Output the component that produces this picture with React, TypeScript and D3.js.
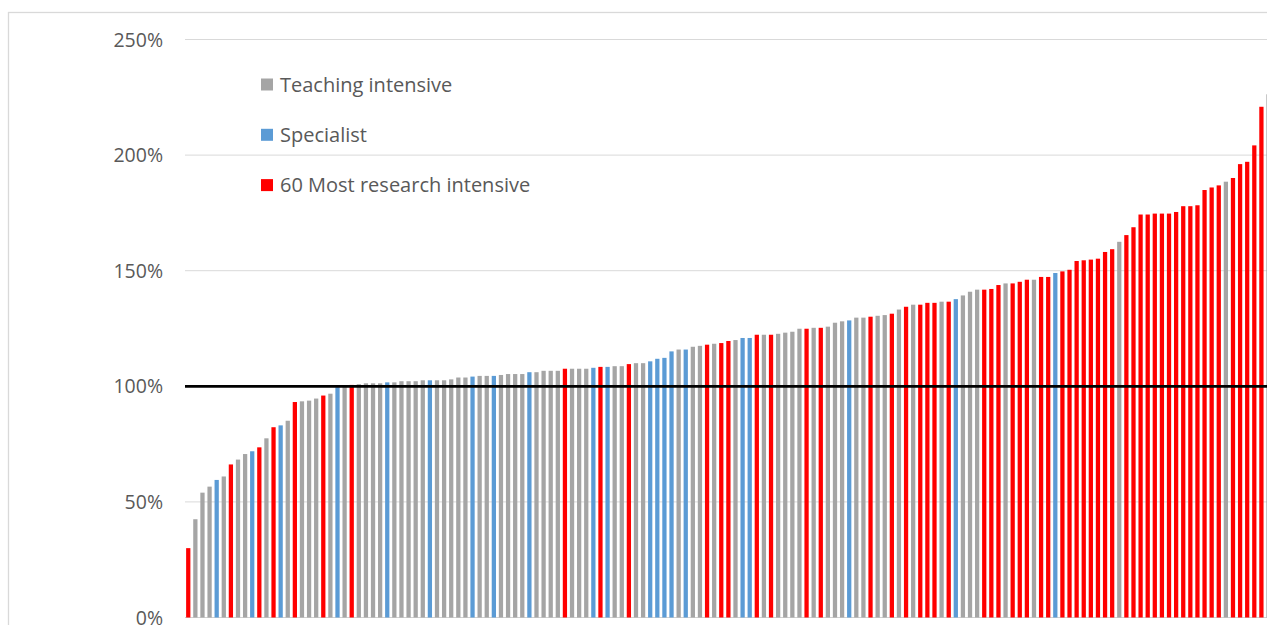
import React from "react";
import * as d3 from "d3";

// T = Teaching intensive, S = Specialist, R = 60 Most research intensive
const groups: string[] = [
  "R","T","T","T","S","T","R","T","T","S","R","T","R","S","T","R","T","T","T","R",
  "T","S","T","R","T","T","T","T","S","T","T","T","T","T","S","T","T","T","T","T",
  "S","T","T","S","T","T","T","T","S","T","T","T","T","R","T","T","T","S","R","S",
  "T","T","R","T","T","S","S","S","S","T","S","T","T","R","T","R","R","T","S","S",
  "R","T","R","T","T","T","T","R","T","R","T","T","T","S","T","T","R","T","T","R",
  "T","R","T","R","R","R","T","R","S","T","T","T","R","R","R","T","R","R","R","T",
  "R","R","S","R","R","R","R","R","R","R","R","T","R","R","R","R","R","R","R","R",
  "R","R","R","R","R","R","T","R","R","R","R","R","T"
];

const values: number[] = [
  30, 42.5, 54, 56.6, 59.5, 61, 66.2, 68.3, 70.7, 71.9, 73.6, 77.5, 82.3, 83.1, 85.1, 93.2, 93.5, 93.8, 94.7, 96,
  96.8, 99.6, 100.2, 100.6, 100.9, 101.3, 101.3, 101.3, 101.7, 101.7, 102.2, 102.2, 102.2, 102.6, 102.6, 102.6, 102.6, 103, 103.8, 103.8,
  104.2, 104.5, 104.5, 104.5, 104.9, 105.3, 105.3, 105.3, 106.1, 106.1, 106.7, 106.7, 106.7, 107.6, 107.6, 107.6, 107.6, 108, 108.4, 108.4,
  108.7, 108.7, 109.6, 110, 110, 110.8, 111.9, 112.3, 115.1, 115.9, 115.9, 117.1, 117.5, 118, 118.4, 118.7, 119.6, 120, 120.9, 120.9,
  122.3, 122.3, 122.3, 122.7, 123.2, 123.6, 124.9, 124.9, 125.3, 125.3, 125.8, 127.5, 128.1, 128.5, 129.7, 129.7, 130.1, 130.5, 130.8, 131.4,
  133.2, 134.4, 135.3, 135.3, 136.1, 136.1, 136.6, 136.6, 137.7, 139.3, 140.9, 141.8, 141.8, 142.1, 143.8, 144.5, 144.5, 145.2, 146.1, 146.1,
  147.3, 147.3, 149, 149.7, 150.4, 154.2, 154.5, 154.8, 155.2, 158.1, 159.3, 162.5, 165.4, 168.8, 174.3, 174.3, 174.7, 174.7, 174.7, 175.4,
  177.9, 177.9, 178.3, 184.9, 186, 186.9, 188.5, 190.1, 196.1, 197.1, 204.2, 220.9, 226.3
];

const yTicks: number[] = [0, 50, 100, 150, 200, 250];

const legendLabels: string[] = ["Teaching intensive", "Specialist", "60 Most research intensive"];
const legendKeys: string[] = ["T", "S", "R"];

const colors: Record<string, string> = { T: "#a5a5a5", S: "#5b9bd5", R: "#ff0000" };

export default function App() {
  const W = 1267;
  const H = 625;
  const step = 7.107;
  const x0 = 184.7;
  const x = d3
    .scaleBand<number>()
    .domain(values.map((_, i) => i))
    .range([x0, x0 + step * values.length])
    .paddingInner(0.4)
    .paddingOuter(0.2);
  const y = d3.scaleLinear().domain([0, 250]).range([617.5, 39.5]);
  const font = "'Open Sans', sans-serif";

  return (
    <svg
      width={W}
      height={H}
      style={{ position: "absolute", left: 0, top: 0, background: "#fff" }}
    >
      <rect x={8.5} y={12.5} width={W + 10} height={H + 10} fill="#fff" stroke="#d9d9d9" strokeWidth={1.3} />
      {yTicks.map((t) => (
        <g key={t}>
          {t !== 100 && (
            <line x1={185} x2={W} y1={y(t)} y2={y(t)} stroke={t === 0 ? "#d0d0d0" : "#d9d9d9"} strokeWidth={1} />
          )}
          <text
            x={163}
            y={y(t)}
            dy="0.36em"
            textAnchor="end"
            fontFamily={font}
            fontSize={19.5}
            fill="#595959"
          >
            {t}%
          </text>
        </g>
      ))}
      {values.map((v, i) => (
        <rect
          key={i}
          x={x(i)}
          width={x.bandwidth()}
          y={y(v)}
          height={y(0) - y(v)}
          fill={colors[groups[i]]}
        />
      ))}
      <line x1={185} x2={W} y1={y(100)} y2={y(100)} stroke="#000" strokeWidth={2.7} />
      {legendLabels.map((l, i) => (
        <g key={l} transform={`translate(0, ${i * 50.3})`}>
          <rect x={261} y={78.5} width={12} height={12} fill={colors[legendKeys[i]]} />
          <text x={280} y={91.5} fontFamily={font} fontSize={20} fill="#595959">
            {l}
          </text>
        </g>
      ))}
    </svg>
  );
}
